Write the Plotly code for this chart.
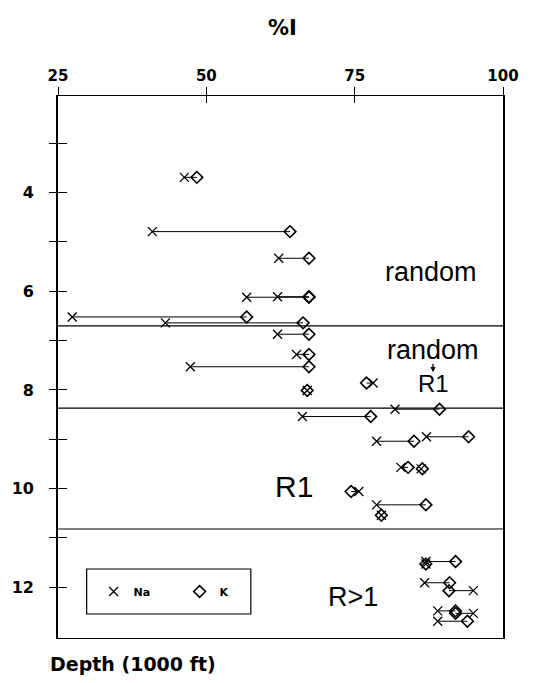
import plotly.graph_objects as go

# ---- data: depth (1000 ft), %I for Na and K ----
depth = [3.69, 4.79, 5.33, 6.12, 6.11, 6.52, 6.64, 6.87, 7.28, 7.53, 8.01, 7.86,
         8.39, 8.54, 8.95, 9.04, 9.57, 9.60, 10.06, 10.33, 10.54,
         11.48, 11.53, 11.91, 12.07, 12.48, 12.53, 12.69]
na = [46.3, 40.9, 62.2, 56.8, 62.0, 27.4, 43.1, 62.0, 65.2, 47.3, 67.0, 78.1,
      81.8, 66.2, 87.1, 78.7, 82.8, 86.2, 75.7, 78.7, 79.5,
      87.0, 87.0, 86.8, 95.0, 89.0, 95.0, 89.0]
k = [48.4, 64.1, 67.3, 67.3, 67.3, 56.8, 66.3, 67.3, 67.3, 67.3, 67.0, 77.0,
     89.3, 77.7, 94.2, 85.0, 84.0, 86.4, 74.4, 87.0, 79.5,
     92.0, 87.0, 91.0, 90.9, 92.0, 92.0, 94.0]

boundaries = [6.70, 8.37, 10.82]
x_ticks = [25, 50, 75, 100]
y_ticks = [3, 4, 5, 6, 7, 8, 9, 10, 11, 12]
y_labels = [str(v) if v % 2 == 0 else "" for v in y_ticks]

region_text = ["random", "random", "R1", "R1", "R>1"]
region_x = [87.8, 88.2, 88.3, 64.7, 74.8]
region_y = [5.6, 7.20, 7.86, 9.95, 12.2]
region_size = [27, 27, 24, 30, 27]

# connectors Na -> K
lx, ly = [], []
for d, a, b in zip(depth, na, k):
    lx += [a, b, None]
    ly += [d, d, None]

fig = go.Figure()
fig.add_trace(go.Scatter(x=lx, y=ly, mode="lines", line=dict(color="black", width=1),
                         showlegend=False, hoverinfo="skip"))
fig.add_trace(go.Scatter(x=na, y=depth, mode="markers", name="Na",
                         marker=dict(symbol="x-thin-open", size=9, color="black",
                                     line=dict(color="black", width=1.3))))
fig.add_trace(go.Scatter(x=k, y=depth, mode="markers", name="K",
                         marker=dict(symbol="diamond-open", size=9, color="black",
                                     line=dict(color="black", width=1.6))))
# empty trace to activate overlay axes (for crossing tick marks)
fig.add_trace(go.Scatter(x=[None], y=[None], xaxis="x2", yaxis="y2", showlegend=False,
                         hoverinfo="skip"))

tickfont_x = dict(family="DejaVu Sans", size=15, color="black", weight="bold")
tickfont_y = dict(family="DejaVu Sans", size=16, color="black", weight="bold")

fig.update_layout(
    width=546, height=683,
    margin=dict(l=53, r=43, t=96, b=45),
    paper_bgcolor="white", plot_bgcolor="white",
    xaxis=dict(range=[25, 100], side="top", tickvals=x_ticks, ticks="outside", ticklen=8,
               tickwidth=1.3, tickcolor="black", showline=True, linecolor="black",
               linewidth=1.3, mirror=True, showgrid=False, zeroline=False,
               tickfont=tickfont_x),
    yaxis=dict(range=[13.03, 2.04], tickvals=y_ticks, ticktext=y_labels, ticks="outside",
               ticklen=7, tickwidth=1.3, tickcolor="black", showline=True, linecolor="black",
               linewidth=1.8, mirror=True, showgrid=False, zeroline=False,
               tickfont=tickfont_y, ticklabelstandoff=12),
    xaxis2=dict(overlaying="x", matches="x", side="top", tickvals=x_ticks, ticks="inside",
                ticklen=7, tickwidth=1.3, tickcolor="black", showticklabels=False,
                showline=False, showgrid=False, zeroline=False),
    yaxis2=dict(overlaying="y", matches="y", side="left", tickvals=y_ticks, ticks="inside",
                ticklen=9, tickwidth=1.3, tickcolor="black", showticklabels=False,
                showline=False, showgrid=False, zeroline=False),
    showlegend=True,
    legend=dict(orientation="h", x=0.080, y=0.0858, xanchor="left", yanchor="middle",
                bgcolor="rgba(0,0,0,0)", borderwidth=0, itemwidth=30,
                entrywidth=41, entrywidthmode="pixels",
                font=dict(family="DejaVu Sans", size=11, color="black", weight="bold")),
)

# region boundary lines
for b in boundaries:
    fig.add_shape(type="line", xref="paper", x0=0, x1=1, yref="y", y0=b, y1=b,
                  line=dict(color="black", width=1.2))

# legend box
fig.add_shape(type="rect", xref="paper", yref="paper", x0=0.0644, x1=0.4333,
              y0=0.0443, y1=0.1273, line=dict(color="black", width=1.2))

# region labels
for t, xv, yv, s in zip(region_text, region_x, region_y, region_size):
    fig.add_annotation(x=xv, y=yv, xref="x", yref="y", text=t, showarrow=False,
                       font=dict(family="Liberation Sans", size=s, color="black"))

# small transition arrow random -> R1
fig.add_annotation(x=88.2, y=7.64, ax=88.2, ay=7.44, xref="x", yref="y", axref="x",
                   ayref="y", text="", showarrow=True, arrowhead=2, arrowsize=0.8,
                   arrowwidth=1.3, arrowcolor="black")

# axis titles
fig.add_annotation(x=0.504, y=1.1255, xref="paper", yref="paper", text="%I",
                   showarrow=False, xanchor="center", yanchor="middle",
                   font=dict(family="DejaVu Sans", size=21, color="black", weight="bold"))
fig.add_annotation(x=-0.022, y=-0.048, xref="paper", yref="paper", text="Depth (1000 ft)",
                   showarrow=False, xanchor="left", yanchor="middle",
                   font=dict(family="DejaVu Sans", size=19, color="black", weight="bold"))

fig.write_html("out.html")
